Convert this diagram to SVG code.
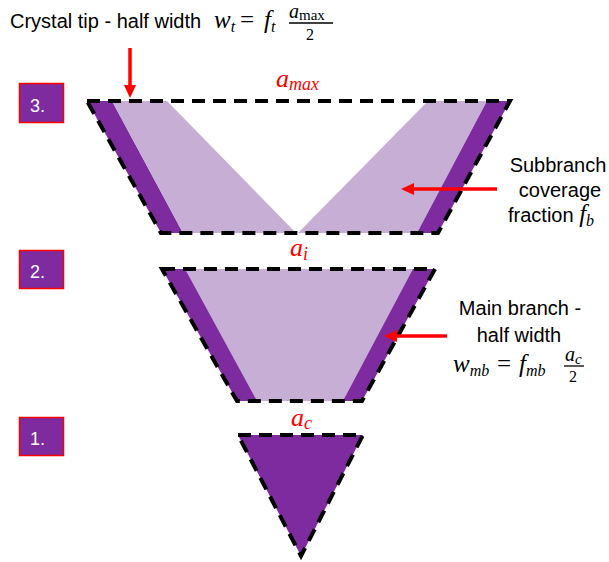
<svg xmlns="http://www.w3.org/2000/svg" width="609" height="562" viewBox="0 0 609 562">
<defs>
<style>
.dark{fill:#7e2ba0}
.light{fill:#c6aed5}
.dash{fill:none;stroke:#000;stroke-width:4;stroke-dasharray:13 8;stroke-linejoin:miter}
.box{fill:#7e2ba0;stroke:#ff0000;stroke-width:1.5}
.num{font-family:"Liberation Sans",Arial,sans-serif;font-size:18px;fill:#fff}
.txt{font-family:"Liberation Sans",Arial,sans-serif;font-size:20px;fill:#000}
.m{font-family:"Liberation Serif","Times New Roman",serif;font-style:italic;fill:#000}
.r{font-family:"Liberation Serif","Times New Roman",serif;fill:#000}
.red{font-family:"Liberation Serif","Times New Roman",serif;font-style:italic;fill:#ff0000}
.arr{stroke:#ff0000;stroke-width:3.5;fill:none}
.head{fill:#ff0000}
</style>
</defs>
<rect width="609" height="562" fill="#fff"/>

<g id="stage3">
<polygon class="dark" points="87,101 112,101 183,233 161,233"/>
<polygon class="light" points="112,101 167,101 296,233 183,233"/>
<polygon class="light" points="428,101 487,101 417,233 298,233"/>
<polygon class="dark" points="487,101 510,101 438,233 417,233"/>
<polygon class="dash" points="87,101 510,101 438,233 161,233"/>
<rect class="box" x="19.5" y="83.5" width="44" height="39"/>
<text class="num" x="30" y="112">3.</text>
<text class="red" x="276" y="87" font-size="26">a<tspan font-size="18" dy="3">max</tspan></text>
</g>

<g id="stage2">
<polygon class="dark" points="162,269 435,269 362,401 237,401"/>
<polygon class="light" points="185,269 413,269 343,401 257,401"/>
<polygon class="dash" points="162,269 435,269 362,401 237,401"/>
<rect class="box" x="19.5" y="250.5" width="44" height="38"/>
<text class="num" x="30" y="278">2.</text>
<text class="red" x="290" y="256" font-size="26">a<tspan font-size="18" dy="4">i</tspan></text>
</g>

<g id="stage1">
<polygon class="dark" points="238,435 363,435 301,556"/>
<polygon class="dash" points="238,435 363,435 301,556"/>
<rect class="box" x="19.5" y="417.5" width="44" height="38"/>
<text class="num" x="30" y="445">1.</text>
<text class="red" x="291" y="426" font-size="26">a<tspan font-size="18" dy="3">c</tspan></text>
</g>

<g id="tip-label">
<text class="txt" x="10" y="28">Crystal tip - half width</text>
<text class="m" x="214" y="28" font-size="25">w<tspan font-size="16" dy="4">t</tspan></text>
<text class="r" x="240" y="28" font-size="25">=</text>
<text class="m" x="264" y="28" font-size="25">f<tspan font-size="16" dy="4">t</tspan></text>
<text class="m" x="289" y="18" font-size="20">a<tspan class="r" font-style="normal" font-size="15" dy="2">max</tspan></text>
<line x1="289" y1="23" x2="333" y2="23" stroke="#000" stroke-width="1.3"/>
<text class="r" x="306" y="40" font-size="16">2</text>
</g>

<g id="subbranch-label">
<text class="txt" x="558" y="172" text-anchor="middle">Subbranch</text>
<text class="txt" x="560" y="197" text-anchor="middle">coverage</text>
<text class="txt" x="508" y="222">fraction <tspan class="m" font-size="25">f</tspan><tspan class="m" font-size="16" dy="4">b</tspan></text>
</g>

<g id="mainbranch-label">
<text class="txt" x="520" y="315" text-anchor="middle">Main branch -</text>
<text class="txt" x="519" y="342" text-anchor="middle">half width</text>
<text class="m" x="453" y="372" font-size="25">w<tspan font-size="16" dy="4">mb</tspan></text>
<text class="r" x="497" y="372" font-size="25">=</text>
<text class="m" x="519" y="372" font-size="25">f<tspan font-size="16" dy="4">mb</tspan></text>
<text class="m" x="565" y="361" font-size="20">a<tspan font-size="15" dy="3">c</tspan></text>
<line x1="564" y1="366" x2="584" y2="366" stroke="#000" stroke-width="1.3"/>
<text class="r" x="569" y="382" font-size="16">2</text>
</g>

<g id="connectors">
<line class="arr" x1="130" y1="48" x2="130" y2="87"/>
<polygon class="head" points="124,85 136,85 130,98"/>
<line class="arr" x1="497" y1="189" x2="412" y2="189"/>
<polygon class="head" points="414,183 414,195 401,189"/>
<line class="arr" x1="447" y1="336" x2="395" y2="336"/>
<polygon class="head" points="397,330 397,342 384,336"/>
</g>
</svg>
